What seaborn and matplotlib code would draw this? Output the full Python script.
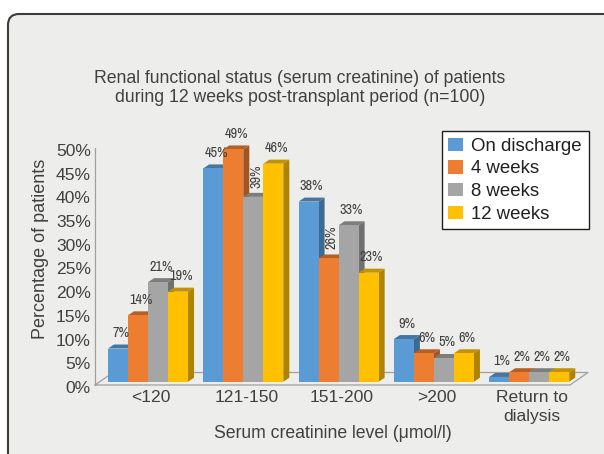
import numpy as np
import pandas as pd
import matplotlib
matplotlib.use('Agg')
import matplotlib.pyplot as plt
import matplotlib.colors as mcolors
from matplotlib import font_manager
from matplotlib.patches import FancyBboxPatch, Patch, Polygon
from matplotlib.transforms import IdentityTransform, ScaledTranslation
import seaborn as sns

# Data
categories = ['<120', '121-150', '151-200', '>200', 'Return to\ndialysis']
series = ['On discharge', '4 weeks', '8 weeks', '12 weeks']
on_discharge = [7, 45, 38, 9, 1]
week4 = [14, 49, 26, 6, 2]
week8 = [21, 39, 33, 5, 2]
week12 = [19, 46, 23, 6, 2]
colors = ['#5B9BD5', '#ED7D31', '#A5A5A5', '#FFC000']

values = [on_discharge, week4, week8, week12]
df = pd.DataFrame({
    'level': np.tile(categories, len(series)),
    'time': np.repeat(series, len(categories)),
    'pct': np.concatenate(values),
})

sns.set_theme(style='white')
plt.rcParams['font.family'] = ['Liberation Sans', 'DejaVu Sans']

# narrow face for the value labels if one is around
names = {f.name for f in font_manager.fontManager.ttflist}
lab_font, lab_size = ['Liberation Sans', 'DejaVu Sans'], 9.2
for cand in ['Liberation Sans Narrow', 'Arial Narrow', 'Archivo Narrow',
             'PT Sans Narrow', 'Roboto Condensed', 'Open Sans Condensed']:
    if cand in names:
        lab_font, lab_size = [cand, 'Liberation Sans'], 10.3
        break

W, H = 604, 454
fig = plt.figure(figsize=(W / 100, H / 100), dpi=100, facecolor='white')

# rounded grey panel
fig.patches.append(FancyBboxPatch((8, -30), 700, H - 14 + 30,
                                  boxstyle='round,pad=0,rounding_size=11',
                                  transform=IdentityTransform(),
                                  facecolor='#EDEDEB', edgecolor='#3C3C3C',
                                  linewidth=1.5, zorder=-10))

# axes: left at 95px, right at 570px, top 148px, bottom 385px
ax_l, ax_r, ax_t, ax_b = 95, 570, 148, 385
ax = fig.add_axes([ax_l / W, 1 - ax_b / H, (ax_r - ax_l) / W, (ax_b - ax_t) / H])
ax.set_facecolor('none')

sns.barplot(data=df, x='level', y='pct', hue='time', palette=colors,
            width=0.84, saturation=1, linewidth=0, legend=False, ax=ax,
            zorder=2)

xlim = (-0.556, 4.428)
ax.set_xlim(*xlim)
ax.set_ylim(0, 50)
sx = (xlim[1] - xlim[0]) / (ax_r - ax_l)   # data units per px
sy = 50 / (ax_b - ax_t)

lift = 3.3 * sy
dx, dy = 6 * sx, 4 * sy

# floor
fdx, fdy = 18 * sx, 12.5 * sy
gray = '#A0A0A0'
ax.plot([xlim[0], xlim[0] + fdx, xlim[1] + fdx, xlim[1], xlim[0]],
        [0, fdy, fdy, 0, 0], color=gray, lw=0.9, clip_on=False, zorder=0.5)

# pseudo-3D faces on each bar
bars = sorted(ax.patches, key=lambda p: p.get_x())
for k, p in enumerate(bars):
    fc = np.array(mcolors.to_rgb(p.get_facecolor()))
    p.set_y(p.get_y() + lift)
    base = 2 + k * 0.01
    p.set_zorder(base + 0.005)
    x0, w = p.get_x(), p.get_width()
    x1 = x0 + w
    yb = p.get_y()
    yt = yb + p.get_height()
    side = Polygon([(x1, yb), (x1 + dx, yb + dy), (x1 + dx, yt + dy), (x1, yt)],
                   closed=True, facecolor=fc * 0.68, edgecolor='none',
                   zorder=base, clip_on=False)
    top = Polygon([(x0, yt), (x1, yt), (x1 + dx, yt + dy), (x0 + dx, yt + dy)],
                  closed=True, facecolor=fc * 0.76, edgecolor='none',
                  zorder=base, clip_on=False)
    ax.add_patch(side)
    ax.add_patch(top)

# value labels
for ci in range(len(categories)):
    for si in range(len(series)):
        v = values[si][ci]
        xc = ci - 0.42 + 0.21 * (si + 0.5) + 3 * sx
        ytop = v + lift
        rotate = (0 < si < len(series) - 1
                  and values[si - 1][ci] >= v + 5 and values[si + 1][ci] >= v + 5)
        if rotate:
            ax.annotate(f'{v}%', (xc, ytop + dy), xytext=(0, 5),
                        textcoords='offset pixels', ha='center', va='bottom',
                        rotation=90, fontsize=lab_size, family=lab_font,
                        color='#404040', annotation_clip=False, zorder=10)
        else:
            ax.annotate(f'{v}%', (xc, ytop), xytext=(0, 15.5),
                        textcoords='offset pixels', ha='center', va='center',
                        fontsize=lab_size, family=lab_font,
                        color='#404040', annotation_clip=False, zorder=10)

# axes styling
for s in ['top', 'right', 'bottom']:
    ax.spines[s].set_visible(False)
ax.spines['left'].set_color(gray)
ax.spines['left'].set_linewidth(0.9)

ax.set_yticks(range(0, 51, 5))
ax.set_yticklabels([f'{t}%' for t in range(0, 51, 5)])
ax.tick_params(axis='y', length=0, pad=3, labelsize=12.6, labelcolor='#404040')
ax.tick_params(axis='x', length=0, pad=3.5, labelsize=12.6, labelcolor='#404040')
shift = ScaledTranslation(3 / 100, 0, fig.dpi_scale_trans)
for lbl in ax.get_xticklabels():
    lbl.set_linespacing(1.35)
    lbl.set_transform(lbl.get_transform() + shift)
down = ScaledTranslation(0, -2 / 100, fig.dpi_scale_trans)
for lbl in ax.get_yticklabels():
    lbl.set_transform(lbl.get_transform() + down)

ax.set_xlabel('Serum creatinine level (μmol/l)', fontsize=12.7, color='#404040')
ax.xaxis.set_label_coords(0.5, -(425 - ax_b) / (ax_b - ax_t))
ax.set_ylabel('Percentage of patients', fontsize=13, color='#404040')
ax.yaxis.set_label_coords((49 - ax_l) / (ax_r - ax_l), (ax_b - 249) / (ax_b - ax_t))

fig.text(300 / W, 1 - 88 / H,
         'Renal functional status (serum creatinine) of patients\n'
         'during 12 weeks post-transplant period (n=100)',
         ha='center', va='center', fontsize=12.7, color='#404040',
         linespacing=1.2)

handles = [Patch(facecolor=c, edgecolor='none') for c in colors]
leg = ax.legend(handles, series, loc='upper left',
                bbox_to_anchor=(441.7 / W, 1 - 131 / H),
                bbox_transform=fig.transFigure, borderaxespad=0,
                frameon=True, fancybox=False, framealpha=1,
                facecolor='white', edgecolor='#202020',
                fontsize=13.4, handlelength=0.8, handleheight=0.72,
                handletextpad=0.45, labelspacing=0.3, borderpad=0.35)
leg.get_frame().set_linewidth(1.0)
for t in leg.get_texts():
    t.set_color('#202020')
leg.set_zorder(20)

fig.savefig('out.png', dpi=100, facecolor='white')
